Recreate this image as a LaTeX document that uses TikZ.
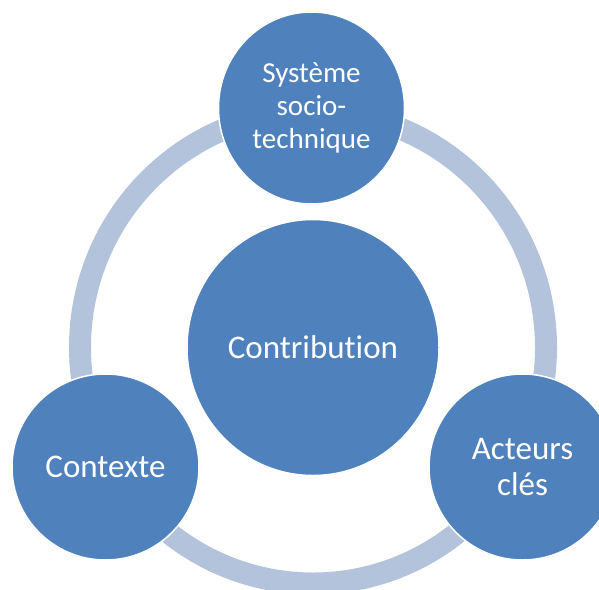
\documentclass[tikz,border=0pt]{standalone}
\usepackage{fontspec}
\setmainfont{Carlito}[Ligatures=NoCommon]
\usetikzlibrary{shapes.geometric}
\definecolor{bubbleblue}{HTML}{4F81BD}
\definecolor{ringblue}{HTML}{B3C3DB}
\tikzset{
  hubnode/.style={ellipse, draw=white, line width=1.5pt, fill=bubbleblue, text=white, align=center, inner sep=0pt, minimum width=252pt, minimum height=256pt, font=\fontsize{33}{36}\selectfont},
  topnode/.style={ellipse, draw=white, line width=1.5pt, fill=bubbleblue, text=white, align=center, inner sep=0pt, minimum width=186pt, minimum height=192pt, font=\fontsize{29}{33}\selectfont},
  sidenode/.style={ellipse, draw=white, line width=1.5pt, fill=bubbleblue, text=white, align=center, inner sep=0pt, minimum width=187pt, minimum height=186pt, font=\fontsize{33}{36}\selectfont},
  ringline/.style={draw=ringblue, line width=22pt}
}

\begin{document}
\begin{tikzpicture}[x=1pt, y=-1pt]
\useasboundingbox (0,0) rectangle (599,589);
\clip (0,0) rectangle (599,589);

\node[hubnode] (hub) at (313,347.5) {Contribution};

% ring behind the three outer bubbles
\draw[ringline] (hub.center) ellipse [x radius=233, y radius=236];

\node[topnode] (sts) at (311.5,108) {Système\\socio-\\technique};
\node[sidenode] (ctx) at (105.5,467) {Contexte};
\node[sidenode] (act) at (522.5,467) {Acteurs\\clés};
\end{tikzpicture}
\end{document}
